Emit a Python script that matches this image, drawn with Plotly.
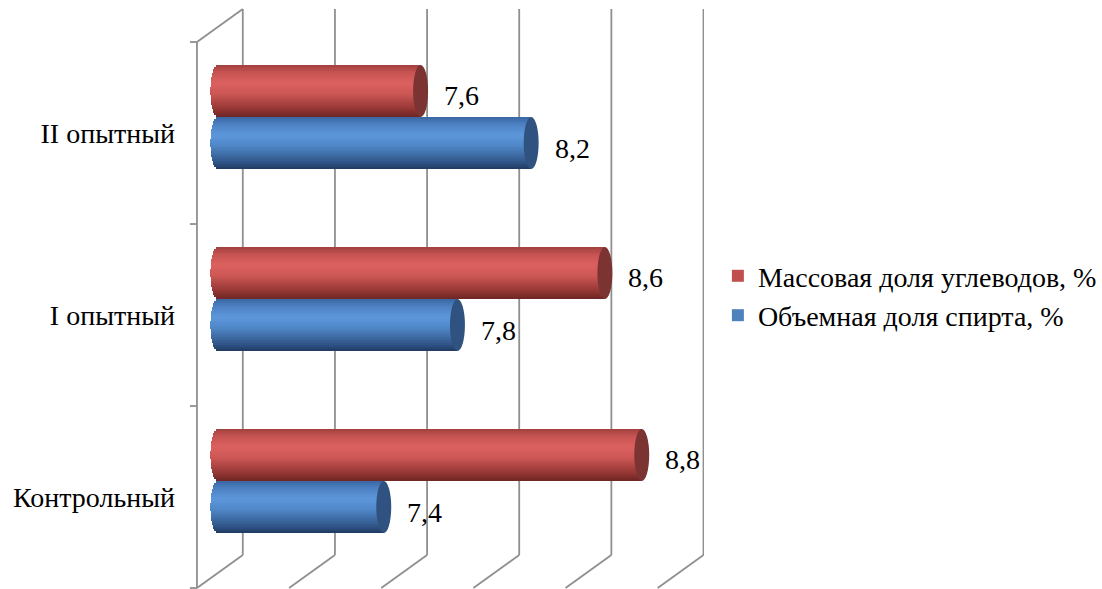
import numpy as np
import plotly.graph_objects as go

# ---------------- data ----------------
categories = ["Контрольный", "I опытный", "II опытный"]
carbs = [8.8, 8.6, 7.6]      # Массовая доля углеводов, %
alcohol = [7.4, 7.8, 8.2]    # Объемная доля спирта, %
series_names = ["Массовая доля углеводов, %", "Объемная доля спирта, %"]
grid_values = [6.5, 7.0, 7.5, 8.0, 8.5, 9.0]
axis_min = 6.5

# ---------------- geometry / style ----------------
W, H = 1102, 589
PX_PER_UNIT = 185.0
CAT_PX = 182.0
front_dx = -21 / PX_PER_UNIT     # depth offset of front plane (x units)
back_dx = 25 / PX_PER_UNIT       # depth offset of back wall
front_dy = -0.088                # depth offset of front plane (category units)
back_dy = 0.093
bar_h = 0.286                    # bar thickness in category units
cap_a = 7.5 / PX_PER_UNIT        # half width of end ellipse
x_range = [axis_min - 28 / PX_PER_UNIT, axis_min + 488 / PX_PER_UNIT]
y_range = [-(589 - 481) / CAT_PX, 2 + (117 - 8) / CAT_PX]
FONT = "Liberation Serif, Times New Roman, serif"
GRID_COLOR = "#8f8f8f"

red_stops = [(0.0, (108, 38, 36)), (0.15, (148, 54, 52)), (0.45, (204, 87, 85)),
             (0.65, (219, 97, 95)), (0.85, (200, 84, 82)), (1.0, (160, 64, 62))]
blue_stops = [(0.0, (32, 58, 98)), (0.15, (50, 88, 140)), (0.45, (80, 135, 200)),
              (0.65, (93, 151, 219)), (0.85, (78, 130, 196)), (1.0, (58, 102, 162))]
red_cap = "rgb(124,52,50)"
blue_cap = "rgb(47,82,128)"
legend_colors = ["#c0504d", "#4f81bd"]


def interp(stops, t):
    for (t0, c0), (t1, c1) in zip(stops[:-1], stops[1:]):
        if t0 <= t <= t1:
            f = (t - t0) / (t1 - t0)
            c = [round(a + (b - a) * f) for a, b in zip(c0, c1)]
            return f"rgb({c[0]},{c[1]},{c[2]})"
    c = stops[-1][1]
    return f"rgb({c[0]},{c[1]},{c[2]})"


fig = go.Figure()
cat_pos = list(range(len(categories)))
N = 26
shapes = []

for s_idx, (vals, stops, cap, sign) in enumerate(
        [(carbs, red_stops, red_cap, 0), (alcohol, blue_stops, blue_cap, -1)]):
    start = sign * bar_h
    band = bar_h / N
    # draw from the outer edges inwards; each band reaches the bar's centre line
    order = []
    for i in range(N // 2):
        order.append(i)
        order.append(N - 1 - i)
    for k in order:
        t = (k + 0.5) / N
        base_k = axis_min - cap_a * np.sqrt(max(0.0, 1 - (2 * t - 1) ** 2))
        if k < N / 2:
            off = start + k * band
            wid = bar_h / 2 - k * band + band * 0.2
        else:
            off = start + bar_h / 2 - band * 0.2
            wid = (k + 1) * band - bar_h / 2 + band * 0.2
        fig.add_trace(go.Bar(
            y=cat_pos, x=[v - base_k for v in vals], base=base_k,
            orientation="h", offset=off, width=wid,
            marker=dict(color=interp(stops, t), line=dict(width=0)),
            showlegend=False, hoverinfo="skip"))
    for c, v in zip(cat_pos, vals):
        shapes.append(dict(type="circle", xref="x", yref="y",
                           x0=v - cap_a, x1=v + cap_a,
                           y0=c + start, y1=c + start + bar_h,
                           fillcolor=cap, line=dict(width=0), layer="above"))

# legend entries
for i, (name, col) in enumerate(zip(series_names, legend_colors)):
    fig.add_trace(go.Bar(x=[None], y=[None], orientation="h", name=name,
                         legendgroup=f"g{i}",
                         marker=dict(color=col, line=dict(width=0))))

# 3D frame: back wall gridlines, floor diagonals, left axis line
y_bot_f, y_top_f = -0.5 + front_dy, 2.5 + front_dy
y_bot_b, y_top_b = -0.5 + back_dy, 2.5 + back_dy
line = dict(color=GRID_COLOR, width=1.8)
for g in grid_values:
    shapes.append(dict(type="line", xref="x", yref="y", x0=g + back_dx, x1=g + back_dx,
                       y0=y_bot_b, y1=y_top_b, line=line, layer="below"))
    shapes.append(dict(type="line", xref="x", yref="y", x0=g + front_dx, x1=g + back_dx,
                       y0=y_bot_f, y1=y_bot_b, line=line, layer="below"))
shapes.append(dict(type="line", xref="x", yref="y", x0=axis_min + front_dx, x1=axis_min + front_dx,
                   y0=y_bot_f, y1=y_top_f, line=line, layer="below"))
shapes.append(dict(type="line", xref="x", yref="y", x0=axis_min + front_dx, x1=axis_min + back_dx,
                   y0=y_top_f, y1=y_top_b, line=line, layer="below"))
for b in range(len(categories) + 1):
    yb = b - 0.5 + front_dy
    shapes.append(dict(type="line", xref="x", yref="y", x0=axis_min + front_dx - 7 / PX_PER_UNIT,
                       x1=axis_min + front_dx, y0=yb, y1=yb, line=line, layer="below"))

# value labels
annotations = []
for vals, sign in [(carbs, 0), (alcohol, -1)]:
    for c, v in zip(cat_pos, vals):
        annotations.append(dict(
            x=v, y=c + sign * bar_h + bar_h / 2, xref="x", yref="y",
            text=f"{v:.1f}".replace(".", ","), showarrow=False,
            xanchor="left", yanchor="middle", xshift=7.5 + 14, yshift=-5,
            font=dict(family=FONT, size=28, color="black")))

fig.update_layout(
    width=W, height=H,
    margin=dict(l=190, r=W - 706, t=8, b=0),
    paper_bgcolor="white", plot_bgcolor="white",
    font=dict(family=FONT, color="black"),
    barmode="overlay", bargap=0,
    shapes=shapes, annotations=annotations,
    showlegend=True,
    legend=dict(x=1.027, xanchor="left", y=0.505, yanchor="middle",
                font=dict(family=FONT, size=28, color="black"),
                traceorder="normal", bgcolor="rgba(0,0,0,0)", tracegroupgap=6),
    xaxis=dict(range=x_range, visible=False, fixedrange=True),
    yaxis=dict(range=y_range, tickvals=[c + front_dy for c in cat_pos], ticktext=categories,
               showgrid=False, zeroline=False, showline=False, ticks="",
               ticklabelstandoff=14, tickfont=dict(family=FONT, size=28, color="black"),
               fixedrange=True),
)

fig.write_html("out.html")
